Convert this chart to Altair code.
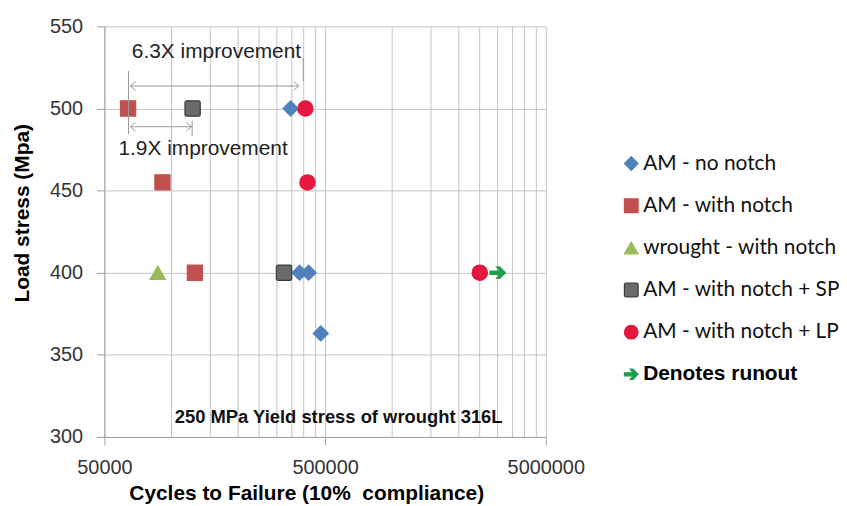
import altair as alt
import pandas as pd

# ---------------- data ----------------
series_names = ["AM - no notch", "AM - with notch", "wrought - with notch",
                "AM - with notch + SP", "AM - with notch + LP", "Denotes runout"]

no_notch_cycles = [349000, 383000, 421000, 478000]
no_notch_stress = [500, 400, 400, 363]
notch_cycles = [64000, 91600, 128500]
notch_stress = [500, 455, 400]
wrought_cycles = [87300]
wrought_stress = [400]
sp_cycles = [125500, 325700]
sp_stress = [500, 400]
lp_cycles = [407000, 416000, 2512000]
lp_stress = [500, 455, 400]
runout_cycles = [3030000]
runout_stress = [400]

x_major = [50000, 500000, 5000000]
x_grid = [50000, 100000, 150000, 200000, 250000, 300000, 350000, 400000, 450000,
          500000, 1000000, 1500000, 2000000, 2500000, 3000000, 3500000, 4000000,
          4500000, 5000000]
y_ticks = [300, 350, 400, 450, 500, 550]

# annotations (data coordinates)
ann_h_from = [65500, 65500]
ann_h_to = [380000, 124100]
ann_h_at = [513.7, 488.9]
ann_v_at = [64300, 398000, 124900]
ann_v_from = [484.4, 516.7, 483.3]
ann_v_to = [522.8, 530.8, 492.5]
ann_text = ["6.3X improvement", "1.9X improvement"]
ann_text_x = [161000, 140000]
ann_text_y = [534.6, 475.1]
note_text = ["250 MPa Yield stress of wrought 316L"]
note_x = [576000]
note_y = [312.4]

# ---------------- tables ----------------
groups = [(no_notch_cycles, no_notch_stress), (notch_cycles, notch_stress),
          (wrought_cycles, wrought_stress), (sp_cycles, sp_stress),
          (lp_cycles, lp_stress), (runout_cycles, runout_stress)]
rows = []
for name, (cx, sy) in zip(series_names, groups):
    for c, s in zip(cx, sy):
        rows.append({"series": name, "cycles": c, "stress": s})
pts = pd.DataFrame(rows)

hdf = pd.DataFrame({"cycles": ann_h_from, "cycles2": ann_h_to, "stress": ann_h_at})
vdf = pd.DataFrame({"cycles": ann_v_at, "stress": ann_v_from, "stress2": ann_v_to})
left_heads = pd.DataFrame({"cycles": ann_h_from, "stress": ann_h_at})
right_heads = pd.DataFrame({"cycles": ann_h_to, "stress": ann_h_at})
tdf = pd.DataFrame({"cycles": ann_text_x, "stress": ann_text_y, "label": ann_text})
ndf = pd.DataFrame({"cycles": note_x, "stress": note_y, "label": note_text})
legdf = pd.DataFrame({"series": series_names, "row": list(range(len(series_names)))})

# ---------------- styles ----------------
fill_colors = ["#4f81bd", "#c0504d", "#9bbb59", "#6b6b6b", "#e5173f", "#1f9e4a"]
stroke_colors = ["#4f81bd", "#c0504d", "#9bbb59", "#3a3a3a", "#e5173f", "#1f9e4a"]
rounded_sq = ("M-0.75,-1 L0.75,-1 Q1,-1 1,-0.75 L1,0.75 Q1,1 0.75,1 L-0.75,1 "
              "Q-1,1 -1,0.75 L-1,-0.75 Q-1,-1 -0.75,-1 Z")
arrow_path = "M-1,-0.22 L0.25,-0.22 L-0.15,-0.75 L0.25,-0.75 L1,0 L0.25,0.75 L-0.15,0.75 L0.25,0.22 L-1,0.22 Z"
shapes = ["diamond", "square", "triangle-up", rounded_sq, "circle", arrow_path]
sizes = [230, 240, 240, 250, 270, 240]

FONT = "Liberation Sans"
is_major = "indexof([50000, 500000, 5000000], datum.value) >= 0"

x_scale = alt.Scale(type="log", domain=[50000, 5000000], nice=False)
y_scale = alt.Scale(domain=[300, 550], nice=False, zero=False)
fill_enc = alt.Fill("series:N", scale=alt.Scale(domain=series_names, range=fill_colors), legend=None)
stroke_enc = alt.Stroke("series:N", scale=alt.Scale(domain=series_names, range=stroke_colors), legend=None)
shape_enc = alt.Shape("series:N", scale=alt.Scale(domain=series_names, range=shapes), legend=None)

x_axis = alt.Axis(
    values=x_grid,
    labelExpr=f"{is_major} ? format(datum.value, 'd') : ''",
    labelOverlap=False, labelFlush=False,
    grid=True, gridColor="#c4c4c4", gridWidth=1,
    domainColor="#a0a0a0", tickColor="#a0a0a0", tickSize=8,
    tickOpacity={"condition": {"test": is_major, "value": 1}, "value": 0},
    labelFont=FONT, labelFontSize=20, labelColor="#333333", labelPadding=13,
    title="Cycles to Failure (10%\u00a0 compliance)", titleFont=FONT, titleFontSize=21,
    titleFontWeight="bold", titleColor="#000000", titleX=203, titleY=63,
    titleAlign="center", titleBaseline="alphabetic",
)
y_axis = alt.Axis(
    values=y_ticks, grid=True, gridColor="#c4c4c4", gridWidth=1,
    domainColor="#a0a0a0", tickColor="#a0a0a0", tickSize=8,
    labelFont=FONT, labelFontSize=20, labelColor="#333333", labelPadding=14,
    title="Load stress (Mpa)", titleFont=FONT, titleFontSize=21, titleFontWeight="bold",
    titleColor="#000000", titleX=-82.5, titleY=187.5, titleAngle=-90,
    titleAlign="center", titleBaseline="middle",
)

points = alt.Chart(pts).mark_point(filled=True, opacity=1, strokeWidth=1.2).encode(
    x=alt.X("cycles:Q", scale=x_scale, axis=x_axis),
    y=alt.Y("stress:Q", scale=y_scale, axis=y_axis),
    fill=fill_enc, stroke=stroke_enc, shape=shape_enc,
    size=alt.Size("series:N", scale=alt.Scale(domain=series_names, range=sizes), legend=None),
)

GRAY = "#9a9a9a"
hrules = alt.Chart(hdf).mark_rule(color=GRAY, strokeWidth=1).encode(
    x=alt.X("cycles:Q", scale=x_scale), x2="cycles2:Q", y=alt.Y("stress:Q", scale=y_scale))
vrules = alt.Chart(vdf).mark_rule(color=GRAY, strokeWidth=1).encode(
    x=alt.X("cycles:Q", scale=x_scale), y=alt.Y("stress:Q", scale=y_scale), y2="stress2:Q")
lh = alt.Chart(left_heads).mark_point(shape="M1.2,-1 L0,0 L1.2,1", filled=False, color=GRAY,
                                       strokeWidth=1, size=80, opacity=1).encode(
    x=alt.X("cycles:Q", scale=x_scale), y=alt.Y("stress:Q", scale=y_scale))
rh = alt.Chart(right_heads).mark_point(shape="M-1.2,-1 L0,0 L-1.2,1", filled=False, color=GRAY,
                                        strokeWidth=1, size=80, opacity=1).encode(
    x=alt.X("cycles:Q", scale=x_scale), y=alt.Y("stress:Q", scale=y_scale))
texts = alt.Chart(tdf).mark_text(font=FONT, fontSize=21, color="#222222", baseline="middle",
                                 align="center").encode(
    x=alt.X("cycles:Q", scale=x_scale), y=alt.Y("stress:Q", scale=y_scale), text="label:N")
note = alt.Chart(ndf).mark_text(font=FONT, fontSize=18.5, fontWeight="bold", color="#111111",
                                baseline="middle", align="center").encode(
    x=alt.X("cycles:Q", scale=x_scale), y=alt.Y("stress:Q", scale=y_scale), text="label:N")

main = alt.layer(points, hrules, vrules, lh, rh, texts, note)

# ---------------- legend (drawn with marks, rows on their own scale) ----------------
leg_y = alt.Y("row:Q", scale=alt.Scale(domain=[0, 5], range=[138, 350]), axis=None)
leg_sym = alt.Chart(legdf).mark_point(filled=True, opacity=1, strokeWidth=1.2).encode(
    x=alt.value(530), y=leg_y, fill=fill_enc, stroke=stroke_enc, shape=shape_enc,
    size=alt.value(190))
leg_txt = alt.Chart(legdf).transform_filter("datum.row < 5").mark_text(
    font="Lato", fontSize=21, color="#111111", align="left", baseline="middle").encode(
    x=alt.value(542), y=leg_y, text="series:N")
leg_bold = alt.Chart(legdf).transform_filter("datum.row == 5").mark_text(
    font=FONT, fontSize=21, fontWeight="bold", color="#000000", align="left",
    baseline="middle").encode(x=alt.value(542), y=leg_y, text="series:N")
legend_layer = alt.layer(leg_sym, leg_txt, leg_bold)

chart = alt.layer(main, legend_layer).resolve_scale(y="independent").properties(
    width=444, height=413,
    padding={"left": 97, "top": 17, "right": 295, "bottom": 69},
    autosize=alt.AutoSizeParams(type="none"),
    background="white",
).configure_view(stroke=None)

chart.save("out.html", embed_options={"renderer": "svg", "actions": False})
